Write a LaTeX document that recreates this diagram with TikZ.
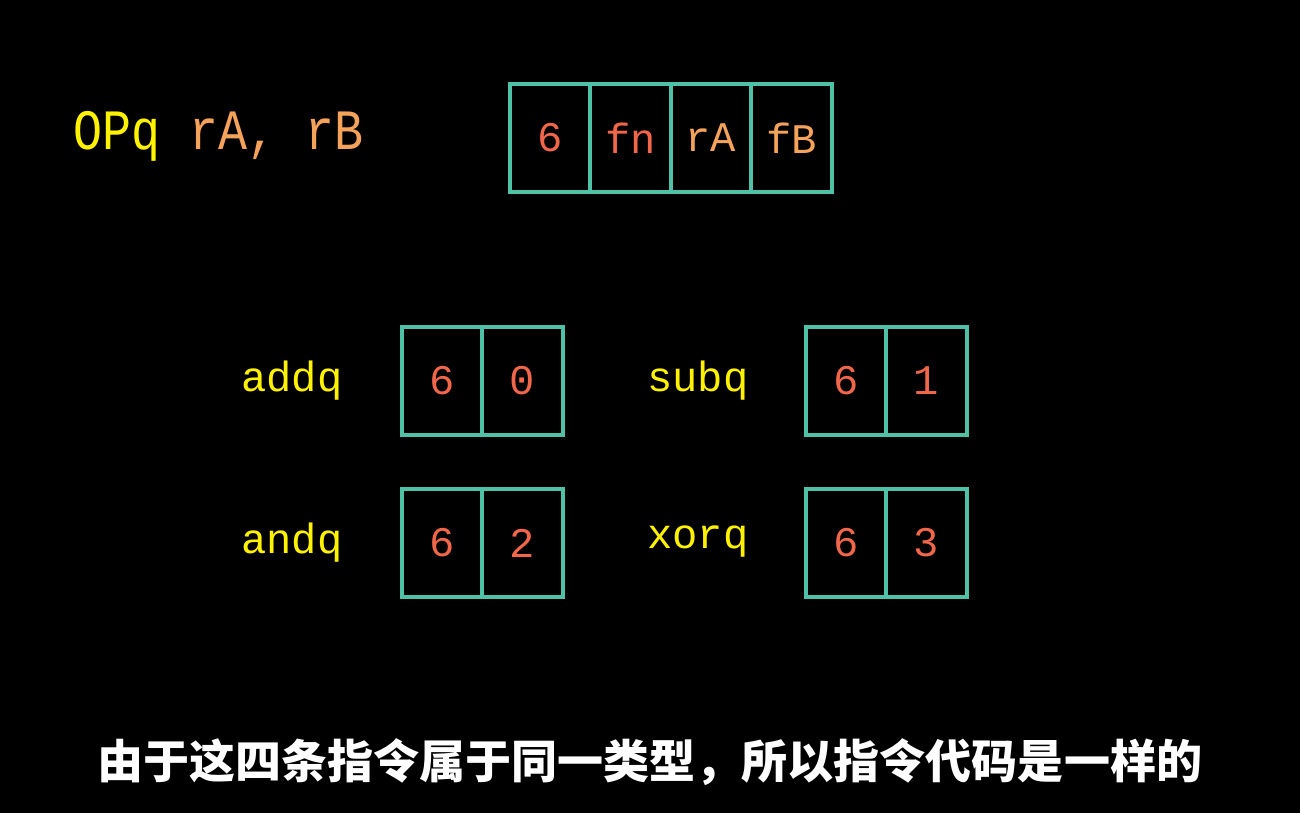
\documentclass[tikz,border=0pt]{standalone}
\usepackage{fontspec}
\setmonofont{Liberation Mono}
\newfontfamily\cjk{Noto Sans CJK SC}
\usetikzlibrary{positioning}
\definecolor{boxteal}{HTML}{4FC1A6}
\definecolor{opyellow}{HTML}{FFF200}
\definecolor{regorange}{HTML}{F5A35B}
\definecolor{codered}{HTML}{F2674A}

\begin{document}
\begin{tikzpicture}[x=0.02cm,y=-0.02cm,node distance=1.61cm,
  cell/.style={draw=boxteal,line width=2.3pt,minimum width=1.61cm,minimum height=2.16cm,inner sep=0pt,text=codered,font=\ttfamily\fontsize{24}{24}\selectfont},
  instr/.style={anchor=base west,inner sep=0pt,text=opyellow,font=\ttfamily\fontsize{24}{24}\selectfont}]
  \fill[black] (0,0) rectangle (1300,813);

  \node[instr,font=\ttfamily\fontsize{27.5}{27.5}\selectfont] (op) at (73,150) {\scalebox{1}[1.18]{OPq \textcolor{regorange}{rA, rB}}};
  \node[cell] (c1) at (550,138) {6};
  \node[cell,right of=c1] (c2) {fn};
  \node[cell,right of=c2,text=regorange] (c3) {rA};
  \node[cell,right of=c3,text=regorange] (c4) {fB};

  \node[instr] (add) at (241,392) {addq};
  \node[cell] (add1) at (442,381) {6};
  \node[cell,right of=add1] (add2) {0};

  \node[instr] (and) at (241,553) {andq};
  \node[cell] (and1) at (442,543) {6};
  \node[cell,right of=and1] (and2) {2};

  \node[instr] (sub) at (647,392) {subq};
  \node[cell] (sub1) at (846,381) {6};
  \node[cell,right of=sub1] (sub2) {1};

  \node[instr] (xor) at (647,548) {xorq};
  \node[cell] (xor1) at (846,543) {6};
  \node[cell,right of=xor1] (xor2) {3};

  \node[anchor=west,inner sep=0pt,text=white,font=\cjk\bfseries\fontsize{26.2}{26.2}\selectfont] (note) at (97,762) {由于这四条指令属于同一类型，所以指令代码是一样的};
\end{tikzpicture}
\end{document}
